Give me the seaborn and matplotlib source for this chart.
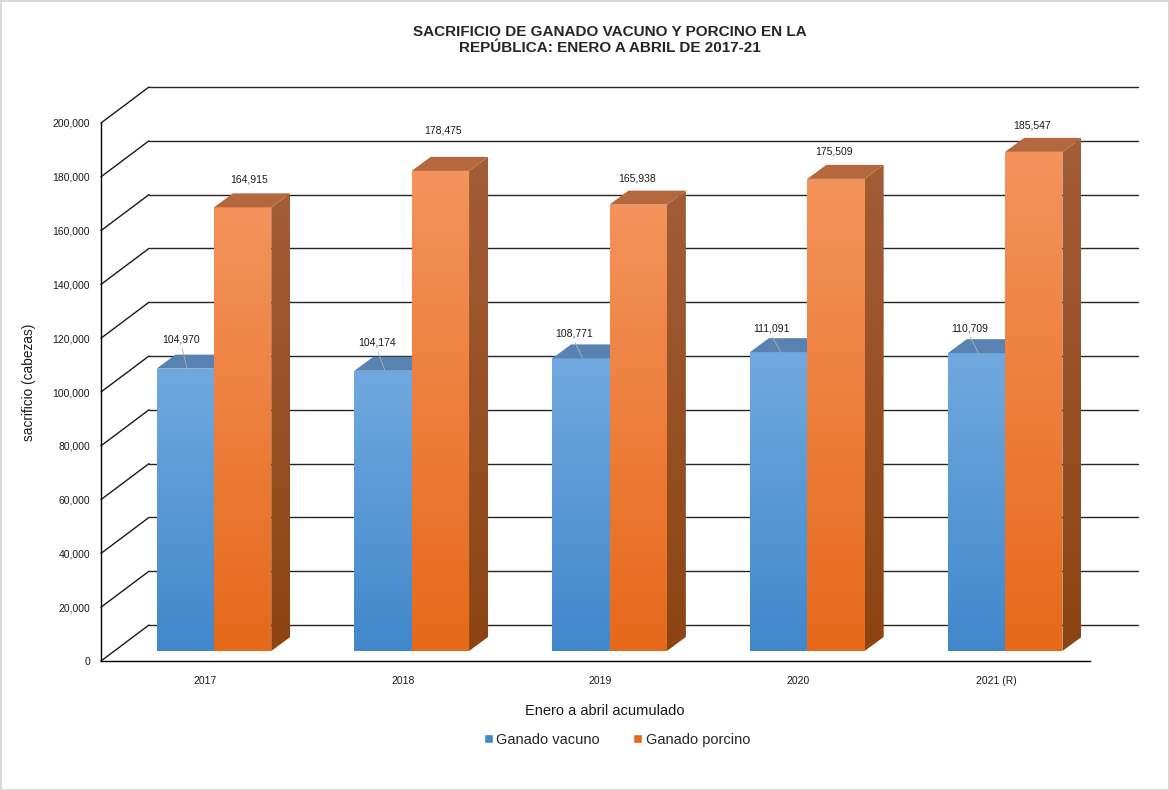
import numpy as np
import pandas as pd
import matplotlib
matplotlib.use('Agg')
import matplotlib.pyplot as plt
import matplotlib.colors as mcolors
from matplotlib.patches import Polygon, Patch
import seaborn as sns

#%% data

years = ['2017', '2018', '2019', '2020', '2021 (R)']
vacuno = [104970, 104174, 108771, 111091, 110709]
porcino = [164915, 178475, 165938, 175509, 185547]
series = ['Ganado vacuno', 'Ganado porcino']
yticks = np.arange(0, 200001, 20000)

df = pd.DataFrame({'year': years * 2,
                   'value': vacuno + porcino,
                   'serie': [series[0]] * len(years) + [series[1]] * len(years)})

# label nudges in pixels (labels were hand-placed in the original)
vac_lab_dx = [-4, -6, -7, -7, -7]
vac_lab_dy = [15, 14, 11, 10, 11]
por_lab_dx = [6, 3, -1, -2, -2]
por_lab_dy = [14, 26, 12, 13, 12]

#%% style

sns.set_style('white')
plt.rcParams['font.family'] = ['Liberation Sans', 'DejaVu Sans']

W, H = 1169, 790
fig = plt.figure(figsize=(W / 100, H / 100), dpi=100)
fig.patch.set_edgecolor('#D9D9D9')
fig.patch.set_linewidth(2)

# front plane of the 3d box, in pixels
x0, x1 = 101, 1090
y0, y1 = 661, 123
ax = fig.add_axes([x0 / W, 1 - y0 / H, (x1 - x0) / W, (y0 - y1) / H])

ymax = 200000
px = 5 / (x1 - x0)        # data units per pixel, x
py = ymax / (y0 - y1)     # data units per pixel, y

wall = (48 * px, 36 * py)   # depth of back wall
shift = (14 * px, 10 * py)  # bar front face depth
depth = (19 * px, 14 * py)  # bar thickness

blue_top, blue_bot, blue_cap = '#70A9DF', '#4187CB', '#5882B1'
org_top, org_bot, org_cap = '#F4935C', '#E6691A', '#B5683D'
side_top, side_bot = '#A35D37', '#8C4412'


def grad_fill(verts, c_top, c_bot, z):
    poly = Polygon(verts, closed=True, facecolor='none', edgecolor='none', zorder=z)
    ax.add_patch(poly)
    xs, ys = zip(*verts)
    cmap = mcolors.LinearSegmentedColormap.from_list('g', [c_bot, c_top])
    im = ax.imshow(np.linspace(0, 1, 256).reshape(-1, 1), cmap=cmap, aspect='auto',
                   origin='lower', extent=[min(xs), max(xs), min(ys), max(ys)],
                   zorder=z, interpolation='bilinear')
    im.set_clip_path(poly)


#%% plot

sns.barplot(df, x='year', y='value', hue='serie', palette=[blue_bot, org_bot],
            width=0.58, saturation=1, legend=False, ax=ax)
ax.set_autoscale_on(False)

# back wall and left wall grid
for t in yticks:
    ax.plot([-0.5, -0.5 + wall[0]], [t, t + wall[1]], c='#1a1a1a', lw=1.0,
            clip_on=False, zorder=1)
    ax.plot([-0.5 + wall[0], 4.5 + wall[0]], [t + wall[1], t + wall[1]], c='#262626',
            lw=1.0, clip_on=False, zorder=1)

for k, cont in enumerate(ax.containers):
    base_z = 2 + k
    for i, rect in enumerate(cont.patches):
        x = rect.get_x() + shift[0]
        w = rect.get_width()
        b = shift[1]
        top = b + rect.get_height()
        rect.set_x(x)
        rect.set_y(b)
        rect.set_facecolor('none')
        rect.set_edgecolor('none')
        front = [(x, b), (x + w, b), (x + w, top), (x, top)]
        cap = [(x, top), (x + w, top), (x + w + depth[0], top + depth[1]),
               (x + depth[0], top + depth[1])]
        if k == 0:
            grad_fill(front, blue_top, blue_bot, base_z)
            ax.add_patch(Polygon(cap, closed=True, fc=blue_cap, ec='none',
                                 zorder=base_z + 0.1, clip_on=False))
            lx = x + w / 2 + vac_lab_dx[i] * px
            ly = top + depth[1] + vac_lab_dy[i] * py
            ax.plot([lx + 1 * px, x + w / 2 + 2 * px], [ly - 9 * py, top],
                    c='#B0B0B0', lw=0.6, zorder=base_z + 0.2, clip_on=False)
            ax.text(lx, ly, '{:,}'.format(vacuno[i]), ha='center', va='center',
                    fontsize=7.5, color='#1a1a1a', zorder=10)
        else:
            grad_fill(front, org_top, org_bot, base_z)
            side = [(x + w, b), (x + w + depth[0], b + depth[1]),
                    (x + w + depth[0], top + depth[1]), (x + w, top)]
            grad_fill(side, side_top, side_bot, base_z)
            ax.add_patch(Polygon(cap, closed=True, fc=org_cap, ec='none',
                                 zorder=base_z + 0.1, clip_on=False))
            lx = x + w / 2 + por_lab_dx[i] * px
            ly = top + depth[1] + por_lab_dy[i] * py
            ax.text(lx, ly, '{:,}'.format(porcino[i]), ha='center', va='center',
                    fontsize=7.5, color='#1a1a1a', zorder=10, clip_on=False)

ax.set_xlim(-0.5, 4.5)
ax.set_ylim(0, ymax)

sns.despine(ax=ax)
for s in ['left', 'bottom']:
    ax.spines[s].set_color('black')
    ax.spines[s].set_linewidth(1.0)

ax.set_yticks(yticks)
ax.set_yticklabels(['{:,}'.format(t) for t in yticks])
ax.set_xticks(np.arange(len(years)) + 5 * px)
ax.set_xticklabels(years)
ax.tick_params(axis='y', length=0, pad=8, labelsize=7.5, labelcolor='#1a1a1a')
ax.tick_params(axis='x', length=0, pad=11, labelsize=7.5, labelcolor='#1a1a1a')

ax.set_xlabel('Enero a abril acumulado', fontsize=10.5, color='#1a1a1a', va='center')
ax.xaxis.set_label_coords((605 - x0) / (x1 - x0), -(711 - y0) / (y0 - y1))
ax.set_ylabel('sacrificio (cabezas)', fontsize=9.8, color='#1a1a1a', va='center')
ax.yaxis.set_label_coords((29 - x0) / (x1 - x0), (y0 - 382) / (y0 - y1))

fig.text(610 / W, 1 - 40 / H,
         'SACRIFICIO DE GANADO VACUNO Y PORCINO EN LA\nREPÚBLICA: ENERO A ABRIL DE 2017-21',
         ha='center', va='center', fontsize=11, fontweight='bold', linespacing=1.1)

handles = [Patch(facecolor=blue_bot, label=series[0]), Patch(facecolor=org_bot, label=series[1])]
fig.legend(handles=handles, loc='center', bbox_to_anchor=(617 / W, 1 - 740 / H), ncol=2,
           frameon=False, fontsize=10.5, handlelength=0.6, handleheight=0.6,
           handletextpad=0.25, columnspacing=2.3)

fig.savefig('out.png', dpi=100)
